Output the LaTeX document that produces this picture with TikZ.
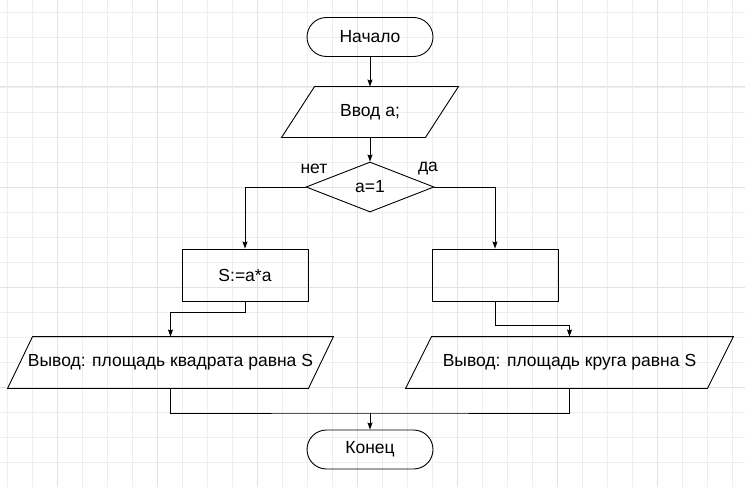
\documentclass[tikz,border=0pt]{standalone}
\usepackage{fontspec}
\setmainfont{Liberation Sans}
\usetikzlibrary{shapes.geometric,arrows.meta,positioning}

\definecolor{gridminor}{HTML}{EEEEEE}
\definecolor{gridmajor}{HTML}{E2E2E2}

% outline of a slanted input/output block around node #1, slant #2
\newcommand{\ioframe}[2]{%
	\draw ([xshift=#2/2]#1.north west) -- ([xshift=#2/2]#1.north east)
		-- ([xshift=-#2/2]#1.south east) -- ([xshift=-#2/2]#1.south west) -- cycle;}

\begin{document}
\begin{tikzpicture}[x=1pt,y=-1pt,line width=0.9pt,
		every node/.style={font=\fontsize{17.5}{20}\selectfont},
		term/.style={draw,rectangle,rounded corners=19.5pt,minimum width=126pt,minimum height=39pt,inner sep=0pt},
		proc/.style={draw,rectangle,minimum width=126pt,minimum height=52pt,inner sep=0pt},
		io/.style={rectangle,minimum height=51pt,inner sep=0pt},
		cond/.style={draw,diamond,minimum width=128pt,minimum height=50pt,inner sep=0pt},
		flow/.style={-{Stealth[length=7pt,width=5pt,inset=1pt]}}]
	\useasboundingbox (0,0) rectangle (745,487);
	% grid
	\foreach \gx in {7,32,...,732}
		\draw[gridminor,line width=0.8pt] (\gx,0) -- (\gx,487);
	\foreach \gy in {12,37,...,487}
		\draw[gridminor,line width=0.8pt] (0,\gy) -- (745,\gy);
	\foreach \gx in {57,157,...,657}
		\draw[gridmajor,line width=1pt] (\gx,0) -- (\gx,487);
	\foreach \gy in {87,187,...,387}
		\draw[gridmajor,line width=1pt] (0,\gy) -- (745,\gy);
	% blocks
	\node[term] (start) at (370,37) {Начало};
	\node[io,minimum width=143pt,minimum height=50pt] (input) at (370,112) {Ввод а;};
	\ioframe{input}{33}
	\node[cond] (check) at (370,187) {а=1};
	\node[proc] (square) at (245,275) {S:=a*a};
	\node[proc] (circle) at (495,275) {};
	\node[io,minimum width=300pt] (outsq) at (170.5,362.5) {Вывод: площадь квадрата равна S};
	\ioframe{outsq}{25}
	\node[io,minimum width=301pt] (outcirc) at (569.5,362.5) {Вывод: площадь круга равна S};
	\ioframe{outcirc}{26}
	\node[term] (stop) at (370,449.5) {Конец};
	\node (no) at (314,169) {нет};
	\node (yes) at (428,169) {да};
	\coordinate (join) at (370,413);
	% connectors
	\draw[flow] (start) -- (input);
	\draw[flow] (input) -- (check);
	\draw[flow] (check.west) -| (square.north);
	\draw[flow] (check.east) -| (circle.north);
	\draw[flow] (square.south) -- ++(0,11) -| (outsq.north);
	\draw[flow] (circle.south) -- ++(0,24) -| (outcirc.north);
	\draw (outsq.south) |- (join) -| (outcirc.south);
	\draw[flow] (join) -- (stop);
\end{tikzpicture}
\end{document}
